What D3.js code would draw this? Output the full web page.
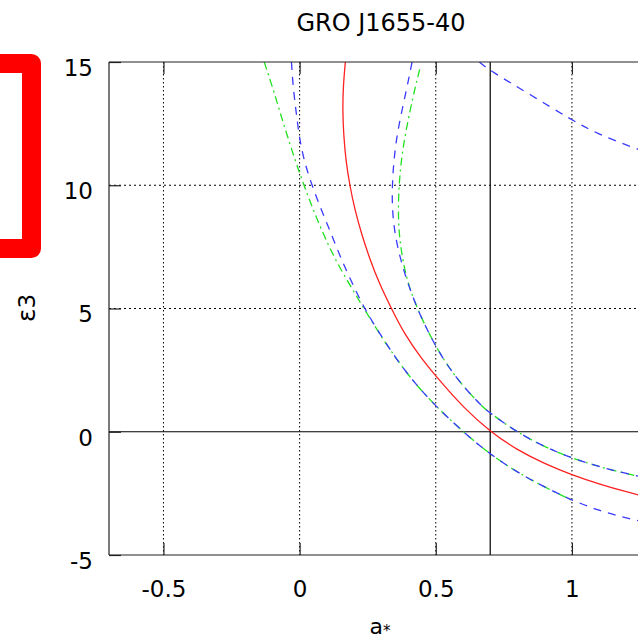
<!DOCTYPE html>
<html>
<head>
<meta charset="utf-8">
<script src="https://cdn.jsdelivr.net/npm/d3@7"></script>
<style>
body { margin: 0; background: #fff; }
svg text { font-family: "DejaVu Sans", Verdana, sans-serif; }
</style>
</head>
<body>
<div id="chart"></div>
<script>
"use strict";

// =============== DATA ===============
var chartTitle = "GRO J1655-40";
var xTicks = [-0.5, 0, 0.5, 1];
var yTicks = [-5, 0, 5, 10, 15];
var xGrid = [-0.5, 0, 0.5, 1];
var yGrid = [5, 10];
var refSpin = 0.7,   // solid vertical line (a*)
	refEps = 0;      // solid horizontal line (eps3)

// [a*, eps3]
var redCurve = [[0.168,15],[0.160,14],[0.158,13],[0.162,12],[0.170,11],[0.184,10],
	[0.203,9],[0.228,8],[0.258,7],[0.293,6],[0.337,5],[0.383,4],[0.445,3],[0.52,2],
	[0.60,1],[0.70,0],[0.8,-0.75],[0.9,-1.3],[1.0,-1.75],[1.1,-2.12],[1.2,-2.44],[1.3,-2.72]];

var greenLower = [[-0.13,15],[-0.10,14],[-0.073,13],[-0.045,12],[-0.016,11],[0.016,10],
	[0.05,9],[0.088,8],[0.13,7],[0.182,6],[0.236,5],[0.292,4],[0.352,3],[0.42,2],
	[0.503,1],[0.6,0],[0.7,-0.92],[0.8,-1.65],[0.9,-2.25],[1.0,-2.78]];
var blueLower = [[-0.03,15],[-0.024,14],[-0.013,13],[-0.002,12],[0.016,11],[0.045,10],
	[0.08,9],[0.117,8],[0.153,7],[0.194,6],[0.238,5],[0.293,4],[0.352,3],[0.42,2],
	[0.503,1],[0.6,0],[0.7,-0.92],[0.8,-1.65],[0.9,-2.25],[1.0,-2.78],[1.1,-3.2],
	[1.2,-3.5],[1.3,-3.75]];

var greenUpper = [[0.441,14.7],[0.425,14],[0.405,13],[0.387,12],[0.373,11],[0.365,10],
	[0.362,9],[0.365,8],[0.378,7],[0.398,6],[0.432,5],[0.474,4],[0.524,3],[0.587,2],
	[0.672,1],[0.7,0.76],[0.795,0],[0.9,-0.62],[1.0,-1.07],[1.1,-1.42],[1.2,-1.7],[1.3,-1.94]];
var blueUpper = [[0.413,15],[0.395,14],[0.375,13],[0.357,12],[0.346,11],[0.34,10],
	[0.34,9],[0.35,8],[0.37,7],[0.398,6],[0.432,5],[0.474,4],[0.524,3],[0.587,2],
	[0.672,1],[0.7,0.76],[0.795,0],[0.9,-0.62],[1.0,-1.07],[1.1,-1.42],[1.2,-1.7],[1.3,-1.94]];
var blueTop = [[0.66,15],[0.7,14.64],[0.85,13.66],[0.994,12.68],[1.09,12.1],[1.233,11.49],[1.3,11.25]];

// =============== LAYOUT ===============
var width = 638, height = 641;
var plotL = 109, plotT = 62, plotB = 555, plotR = 653.6;
var fontStack = "'DejaVu Sans', Verdana, sans-serif";

var svg = d3.select("#chart").append("svg")
	.attr("width", width)
	.attr("height", height);

var x = d3.scaleLinear().domain([-0.7, 1.3]).range([plotL, plotR]);
var y = d3.scaleLinear().domain([-5, 15]).range([plotB, plotT]);

svg.append("clipPath").attr("id", "plotClip")
	.append("rect")
	.attr("x", plotL).attr("y", plotT)
	.attr("width", plotR - plotL).attr("height", plotB - plotT);

// red bracket on the far left
svg.append("rect")
	.attr("x", -40).attr("y", 63.5)
	.attr("width", 71.5).attr("height", 185)
	.attr("fill", "none")
	.attr("stroke", "#ff0000")
	.attr("stroke-width", 19)
	.attr("stroke-linejoin", "round");

// grid
var grid = svg.append("g").attr("clip-path", "url(#plotClip)");
grid.selectAll("line.vg").data(xGrid).enter().append("line")
	.attr("class", "vg")
	.attr("x1", function(d){ return x(d); }).attr("x2", function(d){ return x(d); })
	.attr("y1", plotT).attr("y2", plotB)
	.attr("stroke", "#000").attr("stroke-width", 1)
	.attr("stroke-dasharray", "1.5,2.5");
grid.selectAll("line.hg").data(yGrid).enter().append("line")
	.attr("class", "hg")
	.attr("y1", function(d){ return y(d); }).attr("y2", function(d){ return y(d); })
	.attr("x1", plotL).attr("x2", plotR)
	.attr("stroke", "#000").attr("stroke-width", 1)
	.attr("stroke-dasharray", "2,3");

// reference lines
grid.append("line")
	.attr("x1", x(refSpin)).attr("x2", x(refSpin))
	.attr("y1", plotT).attr("y2", plotB)
	.attr("stroke", "#000").attr("stroke-width", 1.2);
grid.append("line")
	.attr("x1", plotL).attr("x2", plotR)
	.attr("y1", y(refEps)).attr("y2", y(refEps))
	.attr("stroke", "#000").attr("stroke-width", 1.2);

// curves
var line = d3.line()
	.x(function(d){ return x(d[0]); })
	.y(function(d){ return y(d[1]); })
	.curve(d3.curveBasis);

var curves = [
	{data: redCurve,   color: "#ff2020", dash: null},
	{data: greenLower, color: "#22e022", dash: "8,4,2,4"},
	{data: greenUpper, color: "#22e022", dash: "8,4,2,4"},
	{data: blueLower,  color: "#3a3aff", dash: "8,7"},
	{data: blueUpper,  color: "#3a3aff", dash: "8,7"},
	{data: blueTop,    color: "#3a3aff", dash: "8,7"}
];

svg.append("g").attr("clip-path", "url(#plotClip)")
	.selectAll("path").data(curves).enter().append("path")
	.attr("d", function(d){ return line(d.data); })
	.attr("fill", "none")
	.attr("stroke", function(d){ return d.color; })
	.attr("stroke-width", 1.3)
	.attr("stroke-dasharray", function(d){ return d.dash; });

// frame (the right side is cut off in the picture)
var frame = svg.append("g").attr("stroke", "#222").attr("stroke-width", 1.2);
frame.append("line").attr("x1", plotL).attr("x2", plotL).attr("y1", plotT).attr("y2", plotB);
frame.append("line").attr("x1", plotL).attr("x2", width).attr("y1", plotT).attr("y2", plotT);
frame.append("line").attr("x1", plotL).attr("x2", width).attr("y1", plotB).attr("y2", plotB);

// axes
function styleAxis(g){
	g.select(".domain").remove();
	g.attr("font-family", fontStack).attr("font-size", 23).attr("color", "#000");
	g.selectAll(".tick line").attr("stroke", "#222").attr("stroke-width", 1.2);
}

svg.append("g")
	.attr("transform", "translate(0," + plotB + ")")
	.call(d3.axisBottom(x).tickValues(xTicks).tickSize(-12).tickPadding(26)
		.tickFormat(function(d){ return String(d); }))
	.call(styleAxis);

svg.append("g")
	.attr("transform", "translate(0," + plotT + ")")
	.call(d3.axisTop(x).tickValues(xTicks).tickSize(-12).tickFormat(""))
	.call(styleAxis);

svg.append("g")
	.attr("transform", "translate(" + plotL + ",0)")
	.call(d3.axisLeft(y).tickValues(yTicks).tickSize(-12).tickPadding(16)
		.tickFormat(function(d){ return String(d); }))
	.call(styleAxis)
	.selectAll("text").attr("dy", "0.58em");

// title and axis labels
svg.append("text")
	.attr("x", 381).attr("y", 31)
	.attr("text-anchor", "middle")
	.attr("font-size", 24)
	.text(chartTitle);

var xLab = svg.append("text")
	.attr("x", 380).attr("y", 634)
	.attr("text-anchor", "middle")
	.attr("font-size", 22);
xLab.append("tspan").text("a");
xLab.append("tspan").attr("font-size", 15).attr("dy", 2).text("*");

var yLab = svg.append("text")
	.attr("transform", "translate(35,308) rotate(-90)")
	.attr("text-anchor", "middle")
	.attr("font-size", 25);
yLab.append("tspan").text("ε");
yLab.append("tspan").attr("font-size", 23).text("3");
</script>
</body>
</html>
